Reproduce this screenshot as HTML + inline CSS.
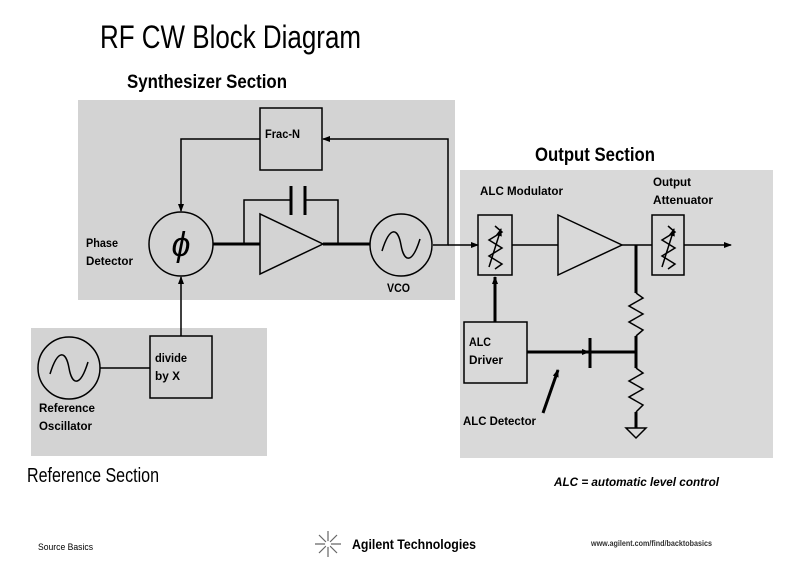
<!DOCTYPE html>
<html><head><meta charset="utf-8"><style>
body{margin:0;background:#fff}
svg{display:block}
text{font-family:"Liberation Sans Narrow","Liberation Sans",sans-serif}
</style></head><body>
<svg width="791" height="572" viewBox="0 0 791 572" xmlns="http://www.w3.org/2000/svg">
<defs><marker id="a" markerWidth="8" markerHeight="8" refX="7" refY="4" orient="auto" markerUnits="userSpaceOnUse"><path d="M0,1 L8,4 L0,7z" fill="#000"/></marker></defs>
<rect width="791" height="572" fill="#fff"/>
<text x="100" y="48" font-size="32" textLength="261" lengthAdjust="spacingAndGlyphs">RF CW Block Diagram</text>
<text x="127" y="88" font-size="19" font-weight="bold" textLength="160" lengthAdjust="spacingAndGlyphs">Synthesizer Section</text>
<text x="535" y="161" font-size="19" font-weight="bold" textLength="120" lengthAdjust="spacingAndGlyphs">Output Section</text>
<text x="27" y="482" font-size="20" textLength="132" lengthAdjust="spacingAndGlyphs">Reference Section</text>
<rect x="78" y="100" width="377" height="200" fill="#d3d3d3"/>
<rect x="31" y="328" width="236" height="128" fill="#d3d3d3"/>
<rect x="460" y="170" width="313" height="288" fill="#d9d9d9"/>
<g stroke="#000" fill="none" stroke-width="1.5">
<rect x="260" y="108" width="62" height="62"/>
<polyline points="260,139 181,139 181,211" marker-end="url(#a)"/>
<polyline points="433,245 448,245 448,139 323,139" marker-end="url(#a)"/>
<circle cx="181" cy="244" r="32"/>
<line x1="213" y1="244" x2="260" y2="244" stroke-width="3"/>
<polyline points="244,244 244,200 291,200"/>
<polyline points="305,200 338,200 338,244"/>
<line x1="291" y1="186" x2="291" y2="215" stroke-width="3"/>
<line x1="305" y1="186" x2="305" y2="215" stroke-width="3"/>
<polygon points="260,214 260,274 323,244"/>
<line x1="323" y1="244" x2="370" y2="244" stroke-width="3"/>
<circle cx="401" cy="245" r="31"/>
<path d="M382,251 C390,225 398,228 401,245 C404,262 412,265 420,239"/>
<line x1="448" y1="245" x2="478" y2="245" marker-end="url(#a)"/>
<rect x="478" y="215" width="34" height="60"/>
<path d="M495,226 L502,232 L489,240 L502,248 L489,256 L502,264 L495,269"/>
<line x1="489" y1="267" x2="501" y2="229" marker-end="url(#a)"/>
<line x1="512" y1="245" x2="558" y2="245"/>
<polygon points="558,215 558,275 622,245"/>
<line x1="622" y1="245" x2="652" y2="245"/>
<rect x="652" y="215" width="32" height="60"/>
<path d="M668,226 L675,232 L662,240 L675,248 L662,256 L675,264 L668,269"/>
<line x1="662" y1="267" x2="674" y2="229" marker-end="url(#a)"/>
<line x1="684" y1="245" x2="731" y2="245" marker-end="url(#a)"/>
<line x1="636" y1="245" x2="636" y2="293" stroke-width="3"/>
<path d="M636,293 L643,298 L629,306 L643,314 L629,322 L643,330 L636,336"/>
<line x1="636" y1="336" x2="636" y2="368" stroke-width="3"/>
<path d="M636,368 L643,373 L629,381 L643,389 L629,397 L643,405 L636,412"/>
<line x1="636" y1="412" x2="636" y2="428" stroke-width="3"/>
<polygon points="626,428 646,428 636,438"/>
<rect x="464" y="322" width="63" height="61"/>
<line x1="495" y1="322" x2="495" y2="277" stroke-width="3" marker-end="url(#a)"/>
<line x1="527" y1="352" x2="589" y2="352" stroke-width="3" marker-end="url(#a)"/>
<line x1="590" y1="338" x2="590" y2="368" stroke-width="3"/>
<line x1="590" y1="352" x2="636" y2="352" stroke-width="3"/>
<line x1="543" y1="413" x2="558" y2="370" stroke-width="3" marker-end="url(#a)"/>
<circle cx="69" cy="368" r="31"/>
<path d="M50,374 C58,348 66,351 69,368 C72,385 80,388 88,362"/>
<line x1="100" y1="368" x2="150" y2="368"/>
<rect x="150" y="336" width="62" height="62"/>
<line x1="181" y1="336" x2="181" y2="277" marker-end="url(#a)"/>
</g>
<text x="181" y="256" font-size="34" font-style="italic" text-anchor="middle" font-family="Liberation Serif,serif">ϕ</text>
<g font-size="12" font-weight="bold" lengthAdjust="spacingAndGlyphs">
<text x="265" y="138" textLength="35" lengthAdjust="spacingAndGlyphs">Frac-N</text>
<text x="86" y="247" textLength="32" lengthAdjust="spacingAndGlyphs">Phase</text>
<text x="86" y="265" textLength="47" lengthAdjust="spacingAndGlyphs">Detector</text>
<text x="387" y="292" textLength="23" lengthAdjust="spacingAndGlyphs">VCO</text>
<text x="480" y="195" textLength="83" lengthAdjust="spacingAndGlyphs">ALC Modulator</text>
<text x="653" y="186" textLength="38" lengthAdjust="spacingAndGlyphs">Output</text>
<text x="653" y="204" textLength="60" lengthAdjust="spacingAndGlyphs">Attenuator</text>
<text x="469" y="346" textLength="22" lengthAdjust="spacingAndGlyphs">ALC</text>
<text x="469" y="364" textLength="34" lengthAdjust="spacingAndGlyphs">Driver</text>
<text x="463" y="425" textLength="73" lengthAdjust="spacingAndGlyphs">ALC Detector</text>
<text x="155" y="362" textLength="32" lengthAdjust="spacingAndGlyphs">divide</text>
<text x="155" y="380" textLength="25" lengthAdjust="spacingAndGlyphs">by X</text>
<text x="39" y="412" textLength="56" lengthAdjust="spacingAndGlyphs">Reference</text>
<text x="39" y="430" textLength="53" lengthAdjust="spacingAndGlyphs">Oscillator</text>
<text x="554" y="486" font-style="italic" textLength="165" lengthAdjust="spacingAndGlyphs">ALC = automatic level control</text>
</g>
<text x="38" y="550" font-size="9" textLength="55" lengthAdjust="spacingAndGlyphs">Source Basics</text>
<g stroke="#666" stroke-width="1.2">
<line x1="328" y1="531" x2="328" y2="557"/><line x1="315" y1="544" x2="341" y2="544"/>
<line x1="319" y1="535" x2="337" y2="553"/><line x1="337" y1="535" x2="319" y2="553"/>
</g>
<circle cx="328" cy="544" r="3" fill="#fff"/>
<text x="352" y="549" font-size="14" font-weight="bold" textLength="124" lengthAdjust="spacingAndGlyphs">Agilent Technologies</text>
<text x="591" y="546" font-size="8" font-weight="bold" fill="#333" textLength="121" lengthAdjust="spacingAndGlyphs">www.agilent.com/find/backtobasics</text>
</svg>
</body></html>
